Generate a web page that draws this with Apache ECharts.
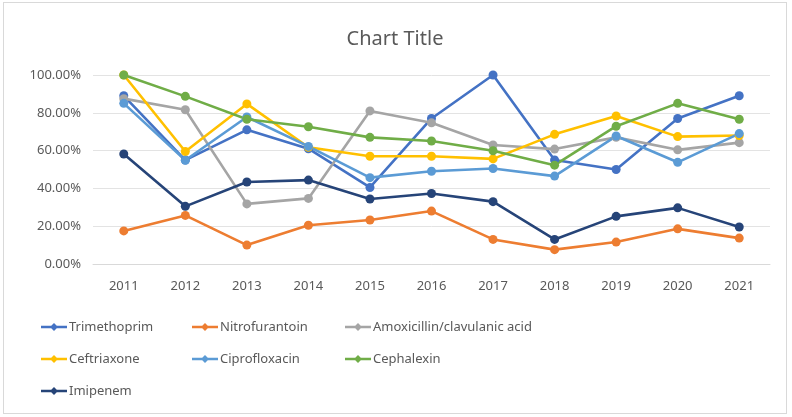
<!DOCTYPE html>
<html><head><meta charset="utf-8">
<script src="https://cdn.jsdelivr.net/npm/echarts@6/dist/echarts.min.js"></script>
<style>html,body{margin:0;padding:0;background:#fff}#c{position:absolute;left:3px;top:2px;width:784px;height:412px;border:1px solid #d9d9d9;box-sizing:border-box}</style>
</head><body><div id="c"></div>
<script>
const years = ['2011','2012','2013','2014','2015','2016','2017','2018','2019','2020','2021'];
const trimethoprim = [89, 55, 71, 61, 40.5, 77, 100, 55, 50, 77, 89];
const nitrofurantoin = [17.5, 25.7, 10, 20.5, 23.3, 28, 13, 7.6, 11.6, 18.6, 13.7];
const amoxicillin = [87.5, 81.6, 31.8, 34.7, 81, 74.7, 63, 60.8, 67, 60.4, 64.2];
const ceftriaxone = [100, 59.5, 84.7, 61.8, 57, 57, 55.6, 68.6, 78.3, 67.4, 68];
const ciprofloxacin = [85, 54.9, 77.8, 62.2, 45.7, 49.1, 50.5, 46.5, 67.7, 53.8, 69];
const cephalexin = [100, 88.7, 76.6, 72.6, 67, 65.1, 59.9, 52.3, 72.9, 85, 76.6];
const imipenem = [58.2, 30.5, 43.4, 44.4, 34.4, 37.3, 33, 13, 25.2, 29.7, 19.6];
const yTicks = [0, 20, 40, 60, 80, 100];

const names = ['Trimethoprim','Nitrofurantoin','Amoxicillin/clavulanic acid','Ceftriaxone','Ciprofloxacin','Cephalexin','Imipenem'];
const colors = ['#4472C4','#ED7D31','#A5A5A5','#FFC000','#5B9BD5','#70AD47','#264478'];
const datas = [trimethoprim, nitrofurantoin, amoxicillin, ceftriaxone, ciprofloxacin, cephalexin, imipenem];

const font = 'Noto Sans';
const legendBase = {orient:'vertical', itemWidth:26, itemHeight:10, itemGap:16, padding:0, height:110,
  icon:'path://M0,3.8 L26,3.8 L26,6.2 L0,6.2 Z M13,1 L17,5 L13,9 L9,5 Z',
  textStyle:{color:'#595959', fontSize:13, fontFamily:font, padding:[0,0,0,-3], lineHeight:16}};
const chart = echarts.init(document.getElementById('c'), null, {renderer:'canvas'});
chart.setOption({
  animation:false,
  color: colors,
  title:{text:'Chart Title', left:'center', top:21, textStyle:{color:'#595959', fontSize:20, fontWeight:'normal', fontFamily:font}},
  grid:{left:89, right:16, top:72, bottom:149},
  xAxis:{type:'category', data:years, boundaryGap:true,
    axisLine:{lineStyle:{color:'#d9d9d9'}}, axisTick:{show:false},
    axisLabel:{color:'#595959', fontSize:13, fontFamily:font, margin:16}},
  yAxis:{type:'value', min:0, max:100, interval:20,
    axisLine:{show:false}, axisTick:{show:false},
    splitLine:{lineStyle:{color:'#e3e3e3'}},
    axisLabel:{color:'#595959', fontSize:13, fontFamily:font, margin:12,
      formatter:v => yTicks.includes(v) ? v.toFixed(2)+'%' : ''}},
  legend:[
    Object.assign({}, legendBase, {left:37, top:316, data:['Trimethoprim','Ceftriaxone','Imipenem']}),
    Object.assign({}, legendBase, {left:188, top:316, data:['Nitrofurantoin','Ciprofloxacin']}),
    Object.assign({}, legendBase, {left:341, top:316, data:['Amoxicillin/clavulanic acid','Cephalexin']})
  ],
  series: names.map((n,i)=>({name:n, type:'line', data:datas[i], symbol:'circle', symbolSize:9,
    lineStyle:{width:2.6, color:colors[i]}, itemStyle:{color:colors[i]}}))
});
</script></body></html>
